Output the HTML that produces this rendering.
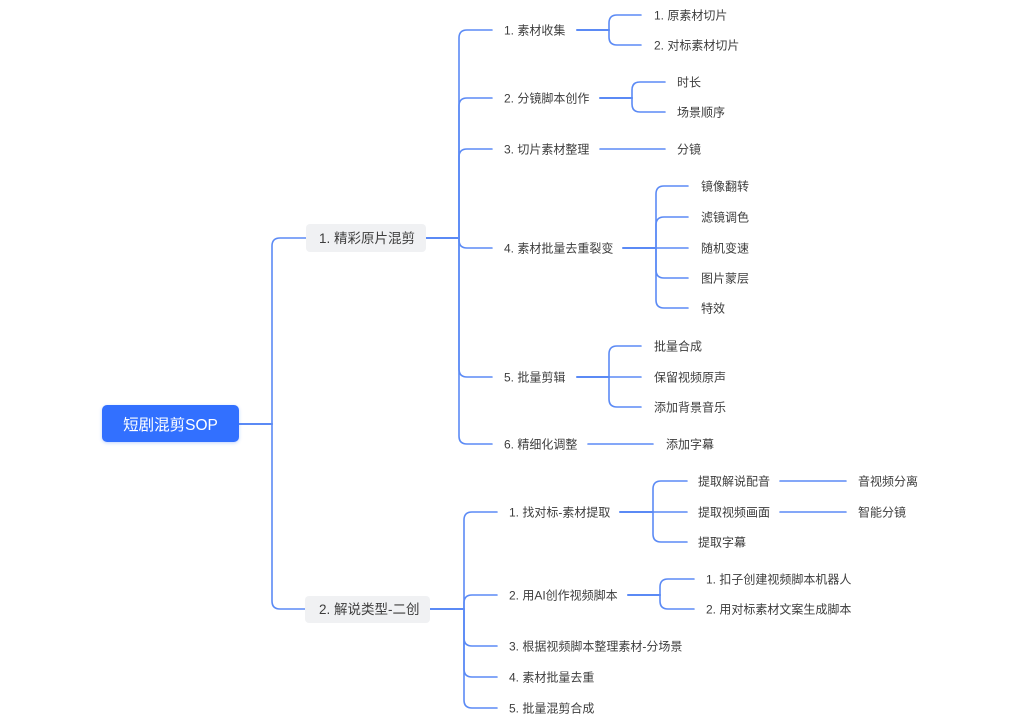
<!DOCTYPE html>
<html><head><meta charset="utf-8"><style>
html,body{margin:0;padding:0;background:#fff;}
svg{display:block;}
text{font-family:"Liberation Sans","Noto Sans CJK SC",sans-serif;fill:#3d3d3d;font-size:12px;}
</style></head><body>
<svg width="1024" height="724" viewBox="0 0 1024 724" xmlns="http://www.w3.org/2000/svg">
<defs><filter id="sh" x="-20%" y="-30%" width="140%" height="160%"><feDropShadow dx="0" dy="1" stdDeviation="1.5" flood-color="#3370ff" flood-opacity="0.3"/></filter></defs>
<g fill="none" stroke="#5b8af5" stroke-width="1.6" stroke-linecap="round">
<!-- root trunk -->
<path d="M239 424 H272" stroke-width="2"/>
<path d="M272 424 V246 Q272 238 280 238 H306"/>
<path d="M272 424 V601 Q272 609 280 609 H305"/>
<!-- branch 1 trunk -->
<path d="M426 238 H459" stroke-width="2"/>
<path d="M459 238 V38 Q459 30 467 30 H492"/>
<path d="M459 238 V106 Q459 98 467 98 H492"/>
<path d="M459 238 V157 Q459 149 467 149 H492"/>
<path d="M459 238 V240 Q459 248 467 248 H492"/>
<path d="M459 238 V369 Q459 377 467 377 H492"/>
<path d="M459 238 V436 Q459 444 467 444 H492"/>
<!-- 素材收集 -->
<path d="M577 30 H609" stroke-width="2"/>
<path d="M609 30 V23 Q609 15 617 15 H641"/>
<path d="M609 30 V37 Q609 45 617 45 H641"/>
<!-- 分镜脚本创作 -->
<path d="M600 98 H632" stroke-width="2"/>
<path d="M632 98 V90 Q632 82 640 82 H665"/>
<path d="M632 98 V104 Q632 112 640 112 H665"/>
<!-- 切片素材整理 -->
<path d="M600 149 H665"/>
<!-- 素材批量去重裂变 -->
<path d="M623 248 H656" stroke-width="2"/>
<path d="M656 248 V194 Q656 186 664 186 H688"/>
<path d="M656 248 V225 Q656 217 664 217 H688"/>
<path d="M656 248 H688"/>
<path d="M656 248 V270 Q656 278 664 278 H688"/>
<path d="M656 248 V300 Q656 308 664 308 H688"/>
<!-- 批量剪辑 -->
<path d="M577 377 H609" stroke-width="2"/>
<path d="M609 377 V354 Q609 346 617 346 H641"/>
<path d="M609 377 H641"/>
<path d="M609 377 V399 Q609 407 617 407 H641"/>
<!-- 精细化调整 -->
<path d="M588 444 H653"/>
<!-- branch 2 trunk -->
<path d="M430 609 H464" stroke-width="2"/>
<path d="M464 609 V520 Q464 512 472 512 H497"/>
<path d="M464 609 V603 Q464 595 472 595 H497"/>
<path d="M464 609 V638 Q464 646 472 646 H497"/>
<path d="M464 609 V669 Q464 677 472 677 H497"/>
<path d="M464 609 V700 Q464 708 472 708 H497"/>
<!-- 找对标 -->
<path d="M620 512 H653" stroke-width="2"/>
<path d="M653 512 V489 Q653 481 661 481 H687"/>
<path d="M653 512 H687"/>
<path d="M653 512 V534 Q653 542 661 542 H687"/>
<path d="M780 481 H846"/>
<path d="M780 512 H846"/>
<!-- 用AI -->
<path d="M628 595 H660" stroke-width="2"/>
<path d="M660 595 V587 Q660 579 668 579 H694"/>
<path d="M660 595 V601 Q660 609 668 609 H694"/>
</g>
<!-- root -->
<rect x="102" y="405" width="137" height="37" rx="5" fill="#3370ff" filter="url(#sh)"/>
<text x="170.5" y="430" text-anchor="middle" style="fill:#fff;font-size:15.5px">短剧混剪SOP</text>
<!-- level1 nodes -->
<rect x="306" y="224" width="120" height="28" rx="4" fill="#f0f1f3"/>
<text x="319" y="243" style="font-size:13.5px">1. 精彩原片混剪</text>
<rect x="305" y="596" width="125" height="27" rx="4" fill="#f0f1f3"/>
<text x="319" y="614" style="font-size:13.5px">2. 解说类型-二创</text>
<!-- branch1 children -->
<text x="504" y="34.5">1. 素材收集</text>
<text x="504" y="102.5">2. 分镜脚本创作</text>
<text x="504" y="153.5">3. 切片素材整理</text>
<text x="504" y="252.5">4. 素材批量去重裂变</text>
<text x="504" y="381.5">5. 批量剪辑</text>
<text x="504" y="448.5">6. 精细化调整</text>
<text x="654" y="19.5">1. 原素材切片</text>
<text x="654" y="49.5">2. 对标素材切片</text>
<text x="677" y="86.5">时长</text>
<text x="677" y="116.5">场景顺序</text>
<text x="677" y="153.5">分镜</text>
<text x="701" y="190.5">镜像翻转</text>
<text x="701" y="221.5">滤镜调色</text>
<text x="701" y="252.5">随机变速</text>
<text x="701" y="282.5">图片蒙层</text>
<text x="701" y="312.5">特效</text>
<text x="654" y="350.5">批量合成</text>
<text x="654" y="381.5">保留视频原声</text>
<text x="654" y="411.5">添加背景音乐</text>
<text x="666" y="448.5">添加字幕</text>
<!-- branch2 children -->
<text x="509" y="516.5">1. 找对标-素材提取</text>
<text x="509" y="599.5">2. 用AI创作视频脚本</text>
<text x="509" y="650.5">3. 根据视频脚本整理素材-分场景</text>
<text x="509" y="681.5">4. 素材批量去重</text>
<text x="509" y="712.5">5. 批量混剪合成</text>
<text x="698" y="485.5">提取解说配音</text>
<text x="698" y="516.5">提取视频画面</text>
<text x="698" y="546.5">提取字幕</text>
<text x="858" y="485.5">音视频分离</text>
<text x="858" y="516.5">智能分镜</text>
<text x="706" y="583.5">1. 扣子创建视频脚本机器人</text>
<text x="706" y="613.5">2. 用对标素材文案生成脚本</text>
</svg>
</body></html>
